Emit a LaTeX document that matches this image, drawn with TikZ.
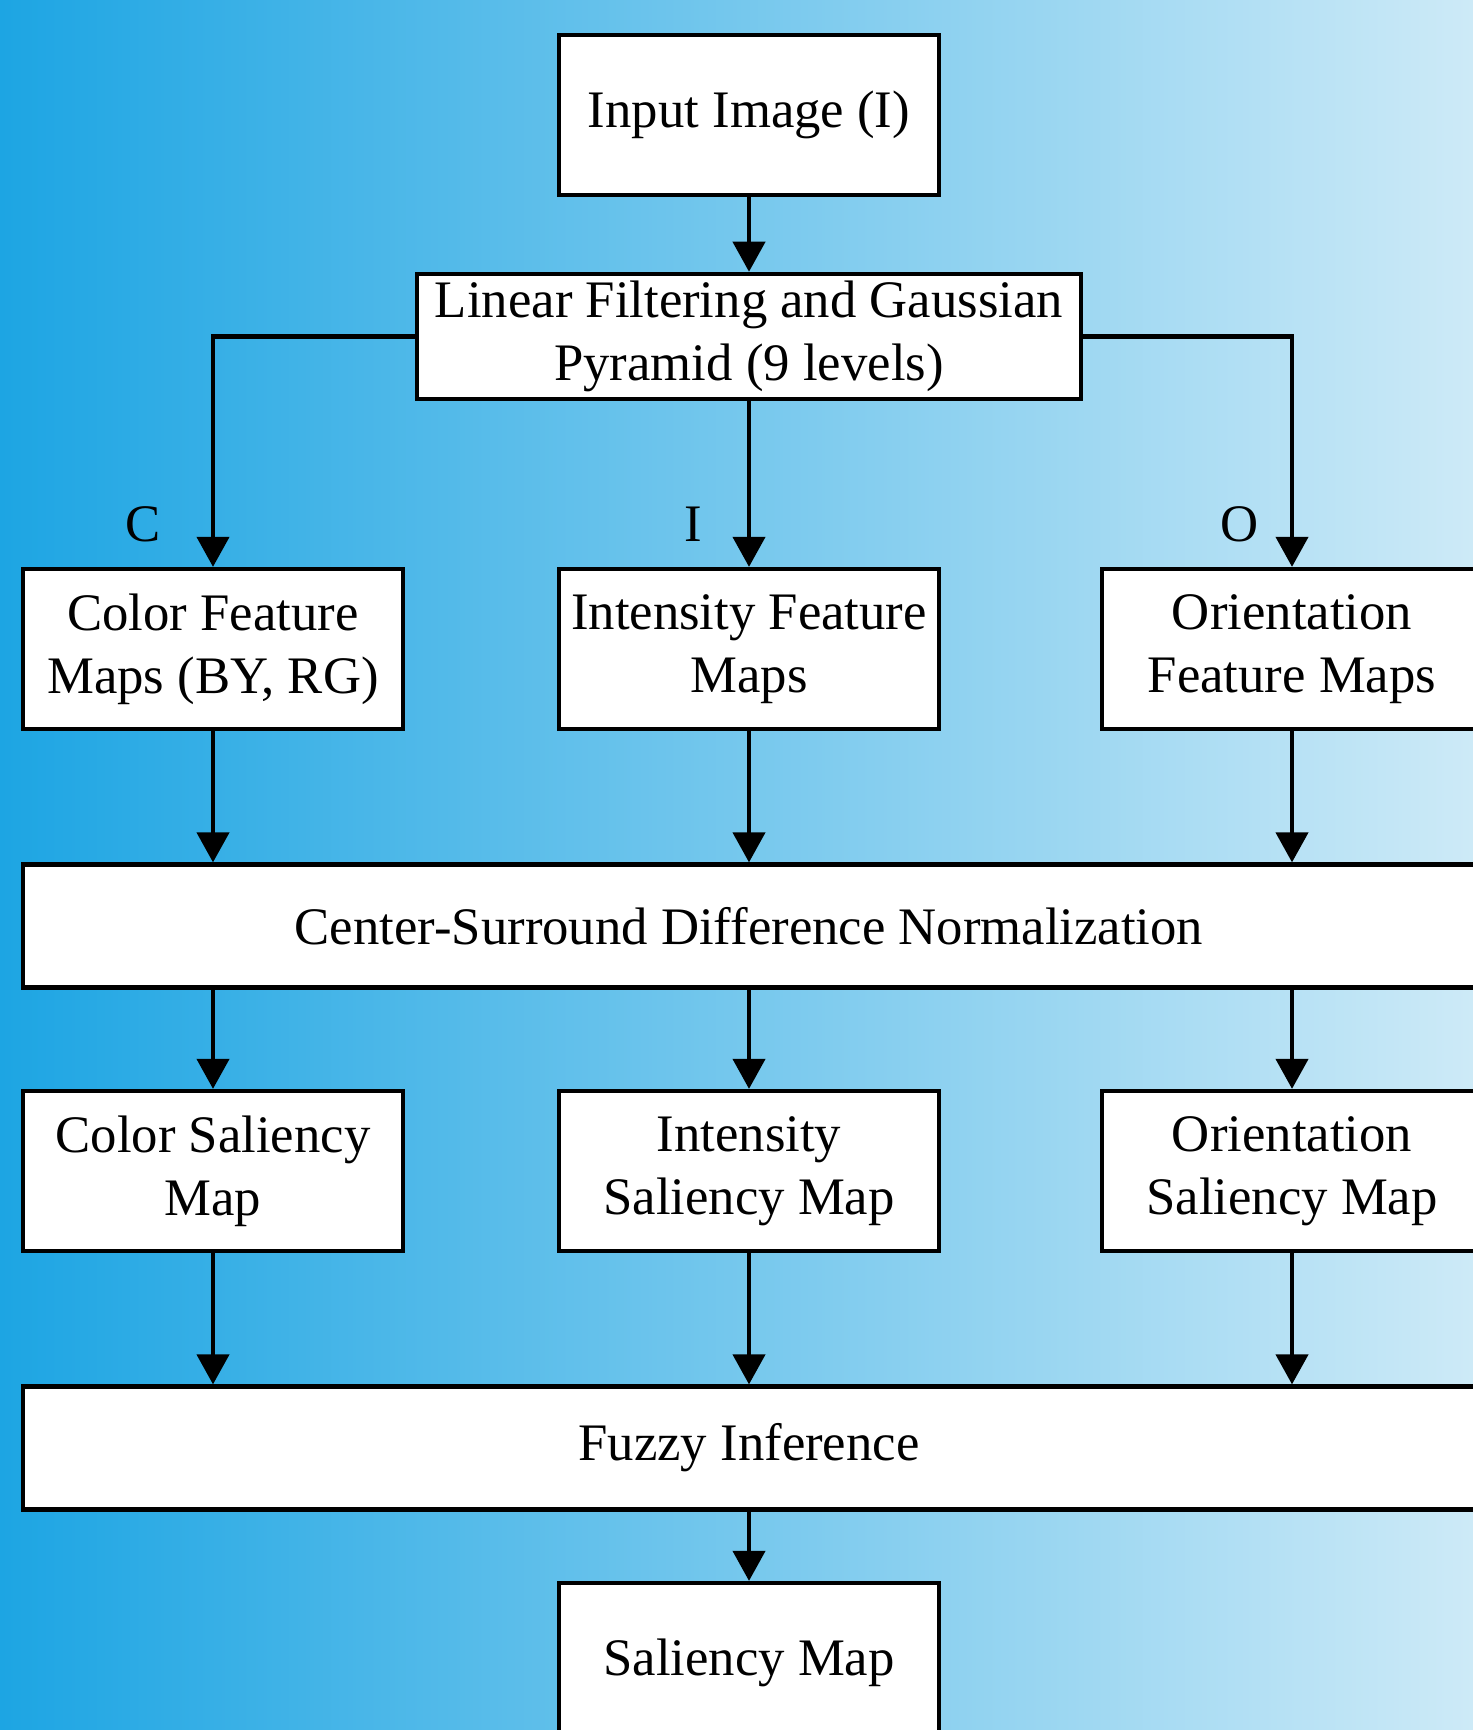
\documentclass[tikz,border=0pt]{standalone}
\usepackage{fontspec}
\setmainfont{Liberation Serif}
\usetikzlibrary{arrows.meta}
\definecolor{bgleft}{RGB}{29,165,227}
\definecolor{bgright}{RGB}{205,234,247}

\begin{document}
\begin{tikzpicture}[
  box/.style={draw,line width=1.2pt,shape=rectangle,fill=white,align=center,inner sep=2pt,minimum width=3.8cm,minimum height=1.6cm},
  widebox/.style={box,minimum width=14.52cm,minimum height=1.23cm},
  flow/.style={->,line width=1.2pt},
  >={Triangle[length=3mm,width=3.2mm]},
  font=\fontsize{15}{18}\selectfont]
  \useasboundingbox (0,0) rectangle (14.73,17.30);
  \shade[left color=bgleft,right color=bgright] (0,0) rectangle (14.73,17.30);
  \clip (0,0) rectangle (14.73,17.30);
  %\draw[step=1cm,gray,very thin] (0,0) grid (14.73,17.30);
  \node[box] (Inp) at (7.49,16.15) {Input Image (I)};
  \node[box,minimum width=6.64cm,minimum height=1.23cm] (Pyr) at (7.49,13.935) {Linear Filtering and Gaussian\\Pyramid (9 levels)};
  \node[box] (CFM) at (2.13,10.81) {Color Feature\\Maps (BY, RG)};
  \node[box] (IFM) at (7.49,10.81) {Intensity Feature\\Maps};
  \node[box] (OFM) at (12.92,10.81) {Orientation\\Feature Maps};
  \node[widebox] (CSD) at (7.49,8.04) {Center-Surround Difference Normalization};
  \node[box] (CSM) at (2.13,5.59) {Color Saliency\\Map};
  \node[box] (ISM) at (7.49,5.59) {Intensity\\Saliency Map};
  \node[box] (OSM) at (12.92,5.59) {Orientation\\Saliency Map};
  \node[widebox] (Fuz) at (7.49,2.82) {Fuzzy Inference};
  \node[box] (Sal) at (7.49,0.67) {Saliency Map};
  \node (lblC) at (1.43,12.06) {C};
  \node (lblI) at (6.93,12.06) {I};
  \node (lblO) at (12.40,12.06) {O};
  \draw[flow] (Inp) -- (Pyr);
  \draw[flow] (Pyr.west) -| (CFM.north);
  \draw[flow] (Pyr) -- (IFM);
  \draw[flow] (Pyr.east) -| (OFM.north);
  \draw[flow] (CFM) -- (CFM |- CSD.north);
  \draw[flow] (IFM) -- (CSD);
  \draw[flow] (OFM) -- (OFM |- CSD.north);
  \draw[flow] (CSD.south -| CSM) -- (CSM);
  \draw[flow] (CSD) -- (ISM);
  \draw[flow] (CSD.south -| OSM) -- (OSM);
  \draw[flow] (CSM) -- (CSM |- Fuz.north);
  \draw[flow] (ISM) -- (Fuz);
  \draw[flow] (OSM) -- (OSM |- Fuz.north);
  \draw[flow] (Fuz) -- (Sal);
\end{tikzpicture}
\end{document}
